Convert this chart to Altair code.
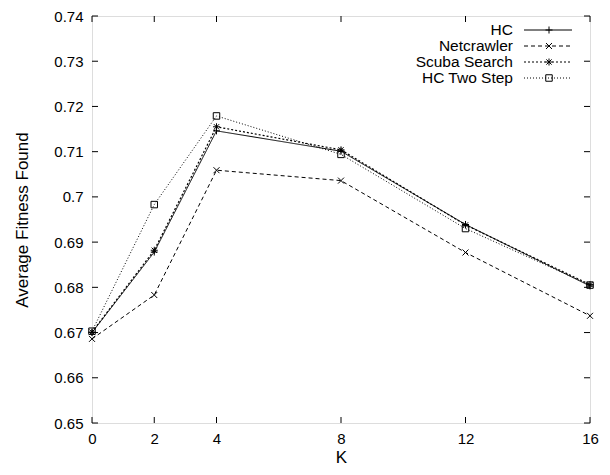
import altair as alt
import pandas as pd

K = [0, 2, 4, 8, 12, 16]
hc = [0.6700, 0.6878, 0.7146, 0.7101, 0.6939, 0.6803]
netcrawler = [0.6686, 0.6783, 0.7059, 0.7036, 0.6877, 0.6737]
scuba = [0.6701, 0.6882, 0.7155, 0.7104, 0.6938, 0.6806]
hc_two_step = [0.6703, 0.6983, 0.7179, 0.7094, 0.6930, 0.6805]

series_names = ["HC", "Netcrawler", "Scuba Search", "HC Two Step"]
series_values = [hc, netcrawler, scuba, hc_two_step]

x_ticks = [0, 2, 4, 8, 12, 16]
y_ticks = [0.65, 0.66, 0.67, 0.68, 0.69, 0.70, 0.71, 0.72, 0.73, 0.74]

W, H = 498, 407
FONT = "Liberation Sans"
LABEL_FS = 15
LEGEND_FS = 15.5
TITLE_FS = 17

styles = {
    "HC": dict(dash=[1, 0], shape="M-1,0L1,0M0,-1L0,1", size=49, sw=1.0),
    "Netcrawler": dict(dash=[4, 3], shape="M-1,-1L1,1M-1,1L1,-1", size=36, sw=1.0),
    "Scuba Search": dict(dash=[2, 2], shape="M-1,0L1,0M0,-1L0,1M-0.75,-0.75L0.75,0.75M-0.75,0.75L0.75,-0.75", size=49, sw=1.2),
    "HC Two Step": dict(dash=[1, 2], shape="square", size=42, sw=1.0),
}

xs = alt.Scale(domain=[0, 16], nice=False, zero=False)
ys = alt.Scale(domain=[0.65, 0.74], nice=False, zero=False)

layers = []

base_axes = alt.Chart(pd.DataFrame({"K": [0], "v": [0.65]})).mark_point(opacity=0).encode(
    x=alt.X("K:Q", scale=xs, axis=alt.Axis(
        values=x_ticks, title="K", grid=False, domain=False, ticks=False,
        labelPadding=15, labelBaseline="middle", labelFont=FONT, labelFontSize=LABEL_FS,
        labelColor="black", titleFont=FONT, titleFontSize=TITLE_FS, titleFontWeight="normal",
        titleColor="black", titleY=34, titleBaseline="middle", labelFlush=False)),
    y=alt.Y("v:Q", scale=ys, axis=alt.Axis(
        values=y_ticks, title="Average Fitness Found", grid=False, domain=False, ticks=False,
        labelPadding=9, labelFont=FONT, labelFontSize=LABEL_FS, labelColor="black",
        labelFlush=False, labelExpr="format(datum.value, '.2~f')",
        titleFont=FONT, titleFontSize=TITLE_FS, titleFontWeight="normal", titleColor="black",
        titleX=-70, titleY=H / 2, titleBaseline="middle", titleAlign="center", titleAngle=-90)),
)
layers.append(base_axes)

# inward ticks on all four sides
xt = pd.DataFrame({"K": x_ticks})
yt = pd.DataFrame({"v": y_ticks})
tick_color = "black"
layers.append(alt.Chart(xt).mark_rule(color=tick_color, strokeWidth=1).encode(
    x=alt.X("K:Q", scale=xs), y=alt.value(H), y2=alt.value(H - 6)))
layers.append(alt.Chart(xt).mark_rule(color=tick_color, strokeWidth=1).encode(
    x=alt.X("K:Q", scale=xs), y=alt.value(0), y2=alt.value(6)))
layers.append(alt.Chart(yt).mark_rule(color=tick_color, strokeWidth=1).encode(
    y=alt.Y("v:Q", scale=ys), x=alt.value(0), x2=alt.value(6)))
layers.append(alt.Chart(yt).mark_rule(color=tick_color, strokeWidth=1).encode(
    y=alt.Y("v:Q", scale=ys), x=alt.value(W), x2=alt.value(W - 6)))

# series
for name, vals in zip(series_names, series_values):
    st = styles[name]
    df = pd.DataFrame({"K": K, "v": vals})
    enc = dict(x=alt.X("K:Q", scale=xs), y=alt.Y("v:Q", scale=ys))
    layers.append(alt.Chart(df).mark_line(color="black", strokeWidth=st["sw"],
                                          strokeDash=st["dash"]).encode(**enc))
    layers.append(alt.Chart(df).mark_point(shape=st["shape"], size=st["size"], filled=False,
                                           color="black", strokeWidth=1, opacity=1).encode(**enc))

# legend (gnuplot style: label, then line sample with marker)
leg_y0, leg_dy = 14, 16
for i, name in enumerate(series_names):
    st = styles[name]
    yy = leg_y0 + i * leg_dy
    one = pd.DataFrame({"name": [name]})
    layers.append(alt.Chart(one).mark_text(align="right", baseline="middle", font=FONT,
                                           fontSize=LEGEND_FS, color="black").encode(
        text="name:N", x=alt.value(421), y=alt.value(yy)))
    layers.append(alt.Chart(one).mark_rule(color="black", strokeWidth=st["sw"],
                                           strokeDash=st["dash"]).encode(
        x=alt.value(432), x2=alt.value(480), y=alt.value(yy)))
    layers.append(alt.Chart(one).mark_point(shape=st["shape"], size=st["size"], filled=False,
                                            color="black", strokeWidth=1, opacity=1).encode(
        x=alt.value(457), y=alt.value(yy)))

chart = alt.layer(*layers).properties(
    width=W, height=H,
    autosize=alt.AutoSizeParams(type="none"),
    padding={"left": 84, "top": 8, "right": 12, "bottom": 44},
).configure_view(stroke="black", strokeWidth=1.2).configure(background="white")

chart.save("out.html", embed_options={"renderer": "svg", "actions": False})
